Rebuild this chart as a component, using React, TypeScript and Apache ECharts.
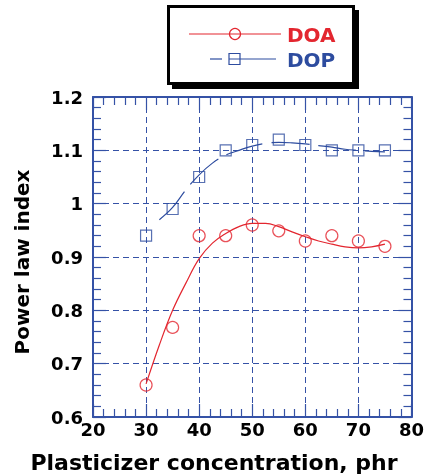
import React, { useEffect, useRef } from "react";
import * as echarts from "echarts";

const concentrations = [30, 35, 40, 45, 50, 55, 60, 65, 70, 75];
const doaValues = [0.66, 0.768, 0.94, 0.94, 0.96, 0.949, 0.93, 0.94, 0.93, 0.92];
const dopValues = [0.94, 0.99, 1.05, 1.1, 1.11, 1.12, 1.11, 1.1, 1.1, 1.1];

const doaFitX = [30, 32.5, 35, 37.5, 40, 42.5, 45, 47.5, 50, 52.5, 55, 57.5, 60, 62.5, 65, 67.5, 70, 72.5, 75];
const doaFitY = [0.662, 0.735, 0.8, 0.851, 0.897, 0.926, 0.944, 0.957, 0.963, 0.963, 0.957, 0.947, 0.938, 0.93, 0.924, 0.919, 0.917, 0.919, 0.924];
const dopFitX = [32.5, 35, 37.5, 40, 42.5, 45, 47.5, 50, 52.5, 55, 57.5, 60, 62.5, 65, 67.5, 70, 72.5, 75];
const dopFitY = [0.97, 0.993, 1.026, 1.054, 1.076, 1.091, 1.1, 1.108, 1.113, 1.115, 1.114, 1.112, 1.109, 1.106, 1.102, 1.1, 1.098, 1.097];

const RED = "#e3262f";
const BLUE = "#2d4c9f";
const AXIS = "#3552a6";
const FONT = "DejaVu Sans";

function makeAxis(kind: "x" | "y", position: string, withLabels: boolean) {
  const range = kind === "x" ? { min: 20, max: 80, interval: 10 } : { min: 0.6, max: 1.2, interval: 0.1 };
  return {
    type: "value",
    position,
    ...range,
    axisLine: { show: true, onZero: false, lineStyle: { color: AXIS, width: 2 } },
    axisTick: { show: true, inside: true, length: 13, lineStyle: { color: AXIS, width: 1.2 } },
    minorTick: { show: true, splitNumber: 5, length: 8, lineStyle: { color: AXIS, width: 1.2 } },
    axisLabel: withLabels
      ? {
          show: true,
          color: "#000",
          fontFamily: FONT,
          fontWeight: "bold",
          fontSize: 18,
          margin: kind === "x" ? 3 : 10,
          formatter: (v: number) => String(Math.round(v * 10) / 10),
        }
      : { show: false },
    splitLine: withLabels ? { show: true, lineStyle: { type: [6, 4], color: AXIS, width: 1 } } : { show: false },
  };
}

export default function App() {
  const ref = useRef<HTMLDivElement>(null);
  useEffect(() => {
    if (!ref.current) return;
    const chart = echarts.init(ref.current, undefined, { renderer: "svg" });
    const pair = (xs: number[], ys: number[]) => xs.map((x, i) => [x, ys[i]]);
    chart.setOption({
      animation: false,
      grid: { left: 93, top: 97, width: 320, height: 320 },
      xAxis: [makeAxis("x", "bottom", true), makeAxis("x", "top", false)],
      yAxis: [makeAxis("y", "left", true), makeAxis("y", "right", false)],
      series: [
        {
          name: "DOA fit", type: "line", data: pair(doaFitX, doaFitY), smooth: 0.4, showSymbol: false,
          lineStyle: { color: RED, width: 1.2 }, silent: true,
        },
        {
          name: "DOA", type: "scatter", data: pair(concentrations, doaValues), symbol: "circle", symbolSize: 12,
          itemStyle: { color: "rgba(0,0,0,0)", borderColor: RED, borderWidth: 1.2 },
        },
        {
          name: "DOP fit", type: "line", data: pair(dopFitX, dopFitY), smooth: 0.4, showSymbol: false,
          lineStyle: { color: BLUE, width: 1.2, type: [38, 9] }, silent: true,
        },
        {
          name: "DOP", type: "scatter", data: pair(concentrations, dopValues), symbol: "rect", symbolSize: 11,
          itemStyle: { color: "rgba(0,0,0,0)", borderColor: BLUE, borderWidth: 1.2 },
        },
      ],
      graphic: [
        { type: "rect", shape: { x: 172, y: 10, width: 187, height: 79 }, style: { fill: "#000" } },
        { type: "rect", shape: { x: 168.5, y: 6.5, width: 185, height: 77 }, style: { fill: "#fff", stroke: "#000", lineWidth: 3 } },
        { type: "line", shape: { x1: 189, y1: 34, x2: 281, y2: 34 }, style: { stroke: RED, lineWidth: 1.2 } },
        { type: "circle", shape: { cx: 235, cy: 34, r: 5.5 }, style: { fill: "none", stroke: RED, lineWidth: 1.2 } },
        { type: "line", shape: { x1: 210, y1: 59, x2: 222, y2: 59 }, style: { stroke: BLUE, lineWidth: 1.2 } },
        { type: "line", shape: { x1: 229, y1: 59, x2: 276, y2: 59 }, style: { stroke: BLUE, lineWidth: 1.2 } },
        { type: "rect", shape: { x: 229, y: 53.5, width: 11, height: 11 }, style: { fill: "none", stroke: BLUE, lineWidth: 1.2 } },
        { type: "text", x: 287, y: 35, style: { text: "DOA", fill: RED, font: `bold 20px "${FONT}"`, textVerticalAlign: "middle" } },
        { type: "text", x: 287, y: 60, style: { text: "DOP", fill: BLUE, font: `bold 20px "${FONT}"`, textVerticalAlign: "middle" } },
        {
          type: "text", x: 214, y: 462,
          style: { text: "Plasticizer concentration, phr", fill: "#000", font: `bold 22px "${FONT}"`, textAlign: "center", textVerticalAlign: "middle" },
        },
        {
          type: "text", x: 22, y: 262, rotation: Math.PI / 2,
          style: { text: "Power law index", fill: "#000", font: `bold 20px "${FONT}"`, textAlign: "center", textVerticalAlign: "middle" },
        },
      ],
    });
    return () => chart.dispose();
  }, []);
  return <div ref={ref} style={{ position: "fixed", left: 0, top: 0, width: 427, height: 476 }} />;
}
